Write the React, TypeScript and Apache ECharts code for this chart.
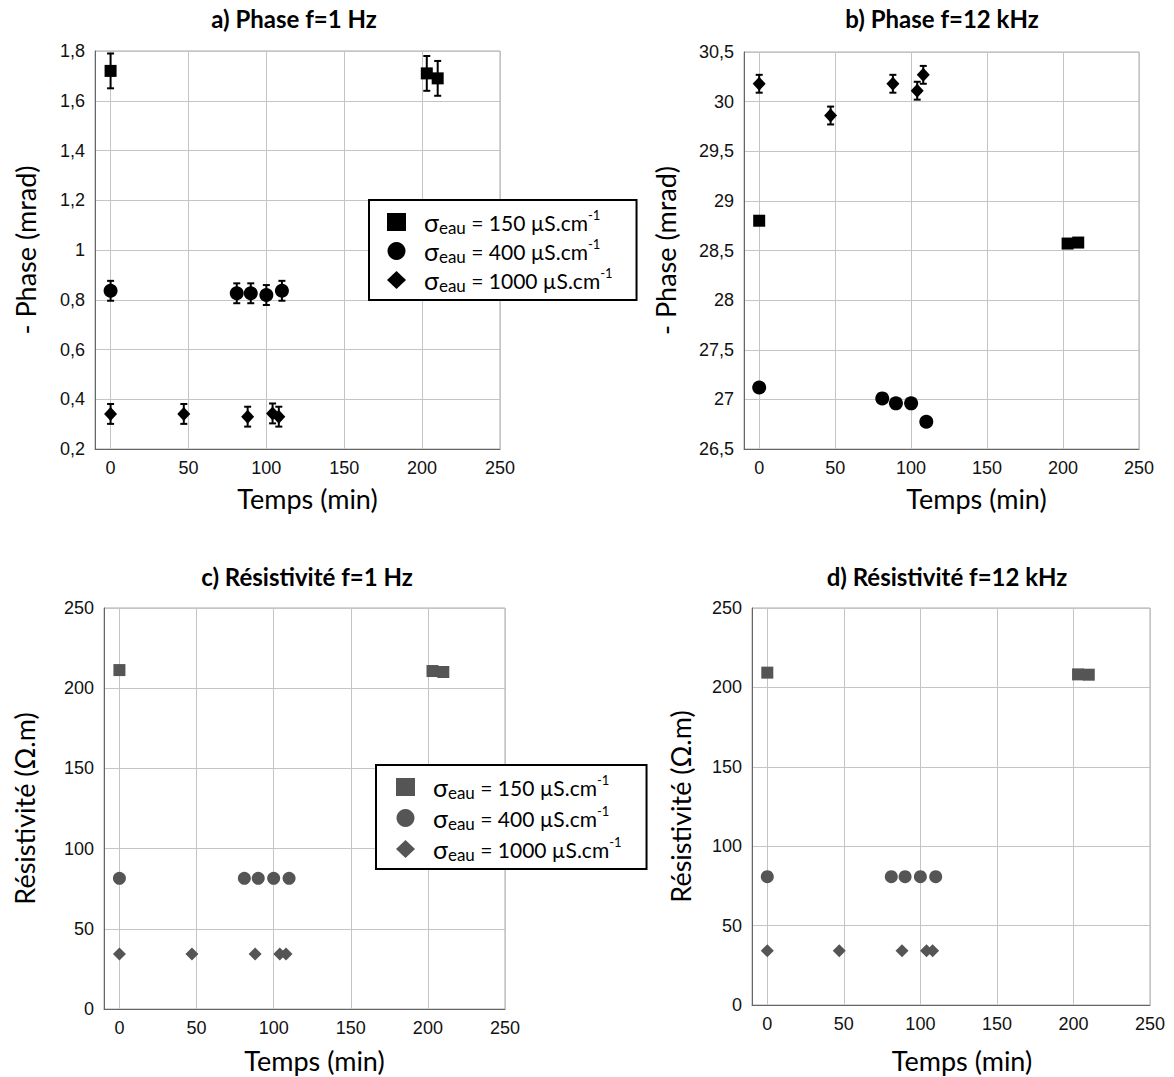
import React, { useEffect, useRef } from 'react';
import * as echarts from 'echarts';

// Times (min)
const timeSquare = [0, 203, 210];
const timeCircle = [0, 81, 90, 100, 110];
const timeDiamond = [0, 47, 88, 104, 108];

// a) Phase f=1 Hz (mrad)
const phase1Square = [1.72, 1.71, 1.69];
const phase1SquareErr = [0.07, 0.07, 0.07];
const phase1Circle = [0.836, 0.826, 0.826, 0.819, 0.836];
const phase1CircleErr = [0.04, 0.04, 0.04, 0.04, 0.04];
const phase1Diamond = [0.341, 0.341, 0.33, 0.343, 0.33];
const phase1DiamondErr = [0.04, 0.04, 0.04, 0.04, 0.04];

// b) Phase f=12 kHz (mrad)
const phase12Square = [28.8, 28.57, 28.58];
const phase12SquareErr = [0.03, 0.03, 0.03];
const phase12Circle = [27.12, 27.01, 26.96, 26.96, 26.775];
const phase12CircleErr = [0.04, 0.04, 0.04, 0.04, 0.04];
const phase12Diamond = [30.18, 29.86, 30.18, 30.11, 30.27];
const phase12DiamondErr = [0.09, 0.09, 0.09, 0.09, 0.09];

// c) Résistivité f=1 Hz (Ω.m)
const res1Square = [211.3, 210.7, 210.1];
const res1Circle = [81.5, 81.5, 81.5, 81.5, 81.5];
const res1Diamond = [34.3, 34.3, 34.3, 34.3, 34.3];

// d) Résistivité f=12 kHz (Ω.m)
const res12Square = [209.3, 208.2, 208.0];
const res12Circle = [80.8, 80.8, 80.8, 80.8, 80.8];
const res12Diamond = [34.2, 34.2, 34.2, 34.2, 34.2];

const xTicks = [0, 50, 100, 150, 200, 250];
const panelTitles = ['a) Phase f=1 Hz', 'b) Phase f=12 kHz', 'c) Résistivité f=1 Hz', 'd) Résistivité f=12 kHz'];
const yNames = ['- Phase (mrad)', '- Phase (mrad)', 'Résistivité (Ω.m)', 'Résistivité (Ω.m)'];
const xName = 'Temps (min)';

const BLACK = '#000000';
const GRAY = '#555555';
const TEXT_FONT = 'Lato';
const TICK_FONT = 'Liberation Sans';

const zip = (xs: number[], ys: number[]) => xs.map((x, i) => [x, ys[i]]);

function errorSeries(idx: number, xs: number[], ys: number[], es: number[], color: string) {
  return {
    type: 'custom',
    xAxisIndex: idx,
    yAxisIndex: idx,
    silent: true,
    z: 3,
    data: xs.map((x, i) => [x, ys[i] - es[i], ys[i] + es[i]]),
    encode: { x: 0, y: [1, 2] },
    renderItem: (params: any, api: any) => {
      const x = api.value(0);
      const lo = api.coord([x, api.value(1)]);
      const hi = api.coord([x, api.value(2)]);
      const w = 3.5;
      const style = { stroke: color, lineWidth: 2 };
      return {
        type: 'group',
        children: [
          { type: 'line', shape: { x1: lo[0], y1: lo[1], x2: hi[0], y2: hi[1] }, style },
          { type: 'line', shape: { x1: lo[0] - w, y1: lo[1], x2: lo[0] + w, y2: lo[1] }, style },
          { type: 'line', shape: { x1: hi[0] - w, y1: hi[1], x2: hi[0] + w, y2: hi[1] }, style },
        ],
      };
    },
  };
}

function scatter(idx: number, name: string, xs: number[], ys: number[], symbol: string, size: any, color: string) {
  return {
    type: 'scatter',
    name,
    xAxisIndex: idx,
    yAxisIndex: idx,
    symbol,
    symbolSize: size,
    itemStyle: { color, opacity: 1 },
    z: 4,
    data: zip(xs, ys),
  };
}

const legendText: Record<string, string> = {
  '150': '{s|σ}{sub|eau}{t| = 150 µS.cm}{sup|-1}',
  '400': '{s|σ}{sub|eau}{t| = 400 µS.cm}{sup|-1}',
  '1000': '{s|σ}{sub|eau}{t| = 1000 µS.cm}{sup|-1}',
};

const legendRich = {
  s: { fontFamily: TEXT_FONT, fontSize: 25, lineHeight: 28, padding: [0, 0, 0, 13], color: '#000' },
  sub: { fontFamily: TEXT_FONT, fontSize: 17, lineHeight: 28, verticalAlign: 'bottom', color: '#000' },
  t: { fontFamily: TEXT_FONT, fontSize: 21, lineHeight: 28, color: '#000' },
  sup: { fontFamily: TEXT_FONT, fontSize: 13, lineHeight: 28, verticalAlign: 'top', color: '#000' },
};

function makeLegend(left: number, top: number, color: string, gap: number, pad: number[]) {
  return {
    orient: 'vertical',
    left,
    top,
    selectedMode: false,
    backgroundColor: '#ffffff',
    borderColor: '#000000',
    borderWidth: 2,
    padding: pad,
    itemGap: gap,
    itemWidth: 19,
    itemHeight: 18,
    z: 10,
    formatter: (n: string) => legendText[n],
    textStyle: { rich: legendRich },
    data: [
      { name: '150', icon: 'rect', itemStyle: { color } },
      { name: '400', icon: 'circle', itemStyle: { color } },
      { name: '1000', icon: 'diamond', itemStyle: { color } },
    ],
  };
}

const grids = [
  { left: 95, top: 51, width: 405, height: 398 },
  { left: 744, top: 52, width: 395, height: 397 },
  { left: 104, top: 608, width: 401, height: 401 },
  { left: 752, top: 608, width: 398, height: 397 },
];
const yRanges = [
  [0.2, 1.8, 0.2],
  [26.5, 30.5, 0.5],
  [0, 250, 50],
  [0, 250, 50],
];
const titlePos = [
  [289, 1],
  [937, 1],
  [302, 559],
  [942, 559],
];
const xNameGap = [36, 36, 38, 42];
const xNameShift = [20, 70, 20, 22];
const yNameGap = [56, 65, 66, 58];

const fmt = (v: number) => String(+v.toFixed(2)).replace('.', ',');

export default function App() {
  const ref = useRef<HTMLDivElement>(null);
  useEffect(() => {
    if (!ref.current) return;
    const chart = echarts.init(ref.current, undefined, { renderer: 'svg' });
    const option: any = {
      animation: false,
      backgroundColor: '#ffffff',
      title: panelTitles.map((t, i) => ({
        text: t,
        left: titlePos[i][0],
        top: titlePos[i][1],
        textAlign: 'center',
        textStyle: { fontFamily: TEXT_FONT, fontWeight: 'bold', fontSize: 24, color: '#000' },
      })),
      legend: [
        makeLegend(369, 200, BLACK, 1, [8, 24, 6, 18]),
        makeLegend(376, 765, GRAY, 3, [8, 25, 6, 20]),
      ],
      grid: grids.map((g) => ({ ...g, show: true, borderColor: '#aaaaaa', borderWidth: 1, backgroundColor: 'transparent' })),
      xAxis: grids.map((g, i) => ({
        type: 'value',
        gridIndex: i,
        min: -10,
        max: 250,
        name: xName,
        nameLocation: 'middle',
        nameGap: xNameGap[i],
        nameTextStyle: { fontFamily: TEXT_FONT, fontSize: 27, color: '#000', padding: [0, 0, 0, xNameShift[i]] },
        axisLine: { show: true, onZero: false, lineStyle: { color: '#666666', width: 1 } },
        axisTick: { show: false, customValues: xTicks },
        axisLabel: { customValues: xTicks, fontFamily: TICK_FONT, fontSize: 18, color: '#111', margin: 10 },
        splitLine: { show: true, lineStyle: { color: '#c4c4c4', width: 1 } },
      })),
      yAxis: grids.map((g, i) => ({
        type: 'value',
        gridIndex: i,
        min: yRanges[i][0],
        max: yRanges[i][1],
        interval: yRanges[i][2],
        name: yNames[i],
        nameLocation: 'middle',
        nameGap: yNameGap[i],
        nameTextStyle: { fontFamily: TEXT_FONT, fontSize: 27, color: '#000' },
        axisLine: { show: true, onZero: false, lineStyle: { color: '#666666', width: 1 } },
        axisTick: { show: false },
        axisLabel: { formatter: fmt, fontFamily: TICK_FONT, fontSize: 18, color: '#111', margin: 10 },
        splitLine: { show: true, lineStyle: { color: '#c4c4c4', width: 1 } },
      })),
      series: [
        // a
        errorSeries(0, timeSquare, phase1Square, phase1SquareErr, BLACK),
        errorSeries(0, timeCircle, phase1Circle, phase1CircleErr, BLACK),
        errorSeries(0, timeDiamond, phase1Diamond, phase1DiamondErr, BLACK),
        scatter(0, '150', timeSquare, phase1Square, 'rect', 12, BLACK),
        scatter(0, '400', timeCircle, phase1Circle, 'circle', 14, BLACK),
        scatter(0, '1000', timeDiamond, phase1Diamond, 'diamond', [13, 14], BLACK),
        // b
        errorSeries(1, timeSquare, phase12Square, phase12SquareErr, BLACK),
        errorSeries(1, timeCircle, phase12Circle, phase12CircleErr, BLACK),
        errorSeries(1, timeDiamond, phase12Diamond, phase12DiamondErr, BLACK),
        scatter(1, '150', timeSquare, phase12Square, 'rect', 12, BLACK),
        scatter(1, '400', timeCircle, phase12Circle, 'circle', 14, BLACK),
        scatter(1, '1000', timeDiamond, phase12Diamond, 'diamond', [13, 14], BLACK),
        // c
        scatter(2, '150', timeSquare, res1Square, 'rect', 12, GRAY),
        scatter(2, '400', timeCircle, res1Circle, 'circle', 13, GRAY),
        scatter(2, '1000', timeDiamond, res1Diamond, 'diamond', [13, 13], GRAY),
        // d
        scatter(3, '150', timeSquare, res12Square, 'rect', 12, GRAY),
        scatter(3, '400', timeCircle, res12Circle, 'circle', 13, GRAY),
        scatter(3, '1000', timeDiamond, res12Diamond, 'diamond', [13, 13], GRAY),
      ],
    };
    chart.setOption(option);
    return () => chart.dispose();
  }, []);
  return <div ref={ref} style={{ position: 'absolute', left: 0, top: 0, width: 1174, height: 1077 }} />;
}
